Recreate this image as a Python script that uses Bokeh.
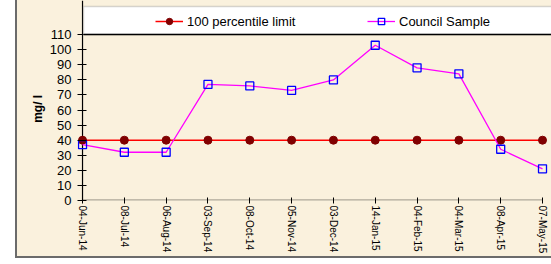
from bokeh.plotting import figure
from bokeh.layouts import column
from bokeh.models import (Range1d, FixedTicker, Legend, LegendItem, BoxAnnotation,
                          ColumnDataSource, Span)
from bokeh.embed import file_html
from bokeh.resources import INLINE

# ---- data ----
sample_dates = ["04-Jun-14", "08-Jul-14", "06-Aug-14", "03-Sep-14", "08-Oct-14",
                "05-Nov-14", "03-Dec-14", "14-Jan-15", "04-Feb-15", "04-Mar-15",
                "08-Apr-15", "07-May-15"]
percentile_limit = [40, 40, 40, 40, 40, 40, 40, 40, 40, 40, 40, 40]
council_sample = [37, 32, 32, 77, 76, 73, 80, 103, 88, 84, 34, 21]
y_ticks = [0, 10, 20, 30, 40, 50, 60, 70, 80, 90, 100, 110]
series_names = ["100 percentile limit", "Council Sample"]
y_label = "mg/ l"

FONT = "Liberation Sans"
BG = "#FAF1DD"
EDGE = "#6b6b6b"

x_pos = list(range(len(sample_dates)))
src = ColumnDataSource(dict(x=x_pos, limit=percentile_limit, council=council_sample))

# plot frame spans the legend strip too; the value axis ends at the top tick
p = figure(width=534, height=256, output_backend="svg", toolbar_location=None,
           title=None,
           x_range=Range1d(-0.12, len(sample_dates) - 1 + 0.215),
           y_range=Range1d(y_ticks[0], 132.67),
           min_border_left=60, min_border_right=0, min_border_top=0, min_border_bottom=55,
           background_fill_color=BG, border_fill_color=BG, outline_line_color=None)
p.margin = (0, 0, 2, 2)
p.grid.visible = False

# x axis
xa = p.xaxis[0]
xa.ticker = FixedTicker(ticks=x_pos)
xa.major_label_overrides = {i: d for i, d in zip(x_pos, sample_dates)}
xa.major_label_orientation = "vertical"
xa.major_label_text_font = FONT
xa.major_label_text_font_size = "10px"
xa.major_label_text_color = "black"
xa.major_label_standoff = 2
xa.major_tick_in = 3
xa.major_tick_out = 3
xa.minor_tick_line_color = None
xa.axis_line_color = None
xa.major_tick_line_color = "black"

# y axis
ya = p.yaxis[0]
ya.ticker = FixedTicker(ticks=y_ticks)
ya.major_label_text_font = FONT
ya.major_label_text_font_size = "13px"
ya.major_label_text_color = "black"
ya.major_label_standoff = 6
ya.major_tick_in = 9
ya.major_tick_out = 0
ya.minor_tick_line_color = None
ya.axis_line_color = None
ya.major_tick_line_color = "black"
ya.axis_label = y_label + "\u00a0" * 5
ya.axis_label_text_font = FONT
ya.axis_label_text_font_size = "12px"
ya.axis_label_text_font_style = "bold"
ya.axis_label_text_color = "black"
ya.axis_label_standoff = 2

# axis lines: vertical through the first sample, horizontal from first to last sample
p.add_layout(Span(location=x_pos[0], dimension="height", line_color="black",
                  line_width=1.2, level="underlay"))
p.add_layout(BoxAnnotation(left=x_pos[0], right=x_pos[-1], bottom=y_ticks[0], top=y_ticks[0],
                           fill_alpha=0, line_color="black", line_width=2.4,
                           level="underlay"))

# legend box
p.add_layout(BoxAnnotation(left=6, right=480, bottom=166, top=194,
                           left_units="screen", right_units="screen",
                           bottom_units="screen", top_units="screen",
                           fill_color="white", fill_alpha=1,
                           line_color="#7a7a7a", line_width=1.5,
                           level="overlay"))
p.add_layout(BoxAnnotation(left=6, right=480, bottom=165.3, top=166.8,
                           left_units="screen", right_units="screen",
                           bottom_units="screen", top_units="screen",
                           fill_color="black", fill_alpha=1, line_color=None,
                           level="overlay"))

# series
l1 = p.line("x", "limit", source=src, line_color="#FF0000", line_width=1.5)
s1 = p.scatter("x", "limit", source=src, marker="circle", size=8,
               fill_color="#800000", line_color="#800000")
l2 = p.line("x", "council", source=src, line_color="#FF00FF", line_width=1.3)
s2 = p.scatter("x", "council", source=src, marker="square", size=8,
               fill_color=None, line_color="#0000FF", line_width=1.3)

legend = Legend(items=[LegendItem(label=series_names[0], renderers=[l1, s1]),
                       LegendItem(label=series_names[1], renderers=[l2, s2])],
                location=(78, 171), orientation="horizontal",
                glyph_width=28, glyph_height=16, label_height=16,
                label_standoff=4, label_width=180, spacing=0,
                padding=0, margin=0, border_line_color=None,
                background_fill_alpha=0,
                label_text_font=FONT, label_text_font_size="13px",
                label_text_color="black")
legend.level = "overlay"
p.add_layout(legend)

# outer chart frame: dark edge on the left and bottom, beige elsewhere
page = column(p, margin=(0, 0, 0, 15), styles={
    "background": f"linear-gradient(to top, {EDGE} 2px, transparent 2px), "
                  f"linear-gradient(to right, {EDGE} 2px, {BG} 2px)"})

open("out.html", "w").write(file_html(page, INLINE))
